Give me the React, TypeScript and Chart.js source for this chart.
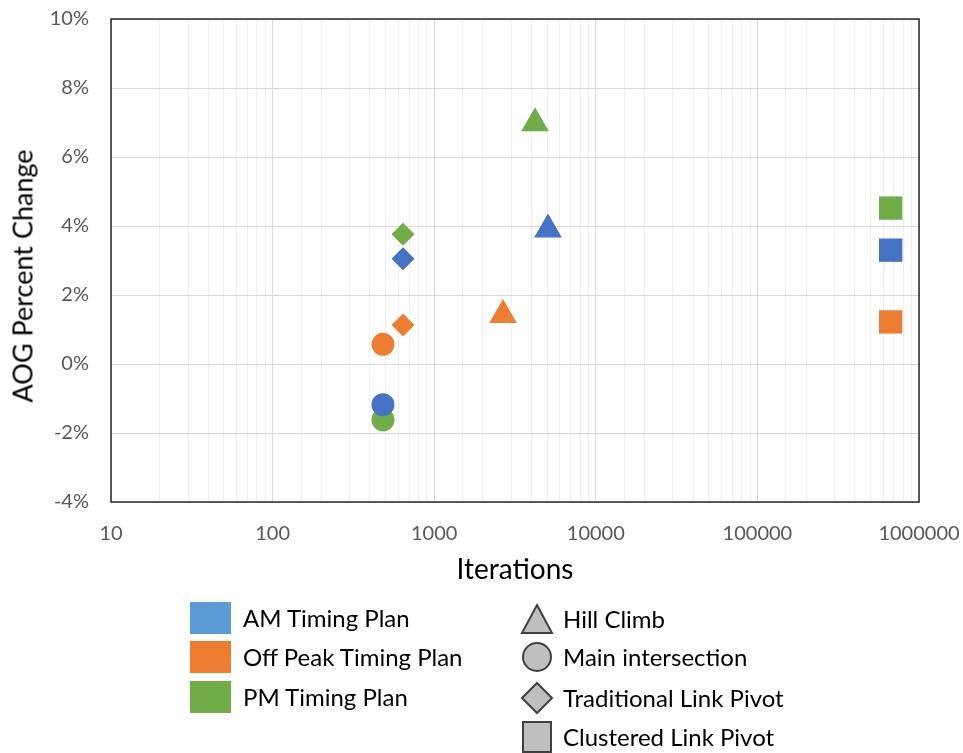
import React, { useEffect, useRef } from 'react';
import { Chart, registerables } from 'chart.js';
Chart.register(...registerables);

// ---- data ----
const methods = ['Hill Climb', 'Main intersection', 'Traditional Link Pivot', 'Clustered Link Pivot'];
const methodStyles = ['triangle', 'circle', 'rectRot', 'rect'];

const plans = ['AM Timing Plan', 'Off Peak Timing Plan', 'PM Timing Plan'];

// order of points in each series follows `methods`
const amIterations = [5060, 482, 641, 668000];
const amChange = [3.9, -1.18, 3.05, 3.3];
const offPeakIterations = [2667, 482, 641, 668000];
const offPeakChange = [1.42, 0.57, 1.13, 1.22];
const pmIterations = [4207, 482, 641, 668000];
const pmChange = [6.98, -1.62, 3.76, 4.52];

const xTickLabels = [10, 100, 1000, 10000, 100000, 1000000];
const yTickLabels = [-4, -2, 0, 2, 4, 6, 8, 10];

// ---- styles ----
const planColors = ['#4472C4', '#ED7D31', '#70AD47'];
const legendColors = ['#5B9BD5', '#ED7D31', '#70AD47'];
const methodRadius = [16, 11.5, 11.5, 16.5];
const FONT = 'Lato, "Open Sans", sans-serif';

const seriesX = [amIterations, offPeakIterations, pmIterations];
const seriesY = [amChange, offPeakChange, pmChange];

const boxPlugin = {
  id: 'plotBox',
  afterDraw(chart: any) {
    const { ctx, chartArea: a } = chart;
    ctx.save();
    ctx.strokeStyle = '#262626';
    ctx.lineWidth = 1.5;
    ctx.strokeRect(a.left, a.top, a.right - a.left, a.bottom - a.top);
    ctx.restore();
  },
};

function zeroPad(scale: any) {
  scale.paddingLeft = 0;
  scale.paddingRight = 0;
  scale.paddingTop = 0;
  scale.paddingBottom = 0;
}

function LegendShape({ kind }: { kind: number }) {
  const s = { fill: '#BFBFBF', stroke: '#404040', strokeWidth: 2 };
  return (
    <svg width={34} height={34} viewBox="0 0 34 34" style={{ display: 'block' }}>
      {kind === 0 && <polygon points="17,3 32,31 2,31" {...s} />}
      {kind === 1 && <circle cx={17} cy={17} r={14} {...s} />}
      {kind === 2 && <polygon points="17,2 32,17 17,32 2,17" {...s} />}
      {kind === 3 && <rect x={3} y={2} width={28} height={30} {...s} />}
    </svg>
  );
}

export default function App() {
  const ref = useRef<HTMLCanvasElement | null>(null);

  useEffect(() => {
    if (!ref.current) return;
    const datasets = plans.map((p, i) => ({
      label: p,
      data: seriesX[i].map((x, j) => ({ x, y: seriesY[i][j] })),
      backgroundColor: planColors[i],
      borderColor: planColors[i],
      borderWidth: 0,
      pointStyle: methodStyles as any,
      pointRadius: methodRadius,
      pointHoverRadius: methodRadius,
      showLine: false,
    }));
    const chart = new Chart(ref.current, {
      type: 'scatter',
      data: { datasets },
      plugins: [boxPlugin],
      options: {
        animation: false,
        responsive: false,
        devicePixelRatio: 1,
        layout: { padding: { left: 0, top: 19, right: 44, bottom: 166 } },
        plugins: { legend: { display: false }, tooltip: { enabled: false } },
        scales: {
          x: {
            type: 'logarithmic',
            min: 10,
            max: 1000000,
            afterFit(scale: any) {
              scale.height = 85;
              zeroPad(scale);
            },
            grid: {
              drawTicks: false,
              color: (ctx: any) => {
                const v = ctx.tick ? ctx.tick.value : 0;
                return xTickLabels.includes(v) ? '#D9D9D9' : '#EFEFEF';
              },
              lineWidth: 1,
            },
            border: { display: false },
            ticks: {
              autoSkip: false,
              maxRotation: 0,
              padding: 20,
              color: '#595959',
              font: { family: FONT, size: 20 },
              callback: (v: any) => (xTickLabels.includes(Number(v)) ? String(v) : ''),
            },
            title: {
              display: true,
              text: 'Iterations',
              color: '#000',
              font: { family: FONT, size: 28 },
              padding: { top: 6, bottom: 0 },
            },
          },
          y: {
            min: -4,
            max: 10,
            afterFit(scale: any) {
              scale.width = 111;
              zeroPad(scale);
            },
            afterBuildTicks(scale: any) {
              scale.ticks = yTickLabels.map((v) => ({ value: v }));
            },
            grid: { drawTicks: false, color: '#D9D9D9', lineWidth: 1 },
            border: { display: false },
            ticks: {
              padding: 22,
              color: '#595959',
              font: { family: FONT, size: 20 },
              callback: (v: any) => v + '%',
            },
          },
        },
      },
    });
    return () => chart.destroy();
  }, []);

  const textStyle: React.CSSProperties = {
    position: 'absolute',
    fontFamily: FONT,
    fontSize: 24,
    color: '#000',
    whiteSpace: 'nowrap',
    lineHeight: '1',
    transform: 'translateY(-50%)',
  };

  const leftRows = [618, 657, 697];
  const rightRows = [619, 657, 698, 737];

  return (
    <div style={{ position: 'fixed', left: 0, top: 0, width: 963, height: 753, background: '#fff' }}>
      <canvas ref={ref} width={963} height={753} style={{ position: 'absolute', left: 0, top: 0 }} />
      <div
        style={{
          position: 'absolute',
          left: 22,
          top: 276,
          transform: 'translate(-50%, -50%) rotate(-90deg)',
          fontFamily: FONT,
          fontSize: 27,
          whiteSpace: 'nowrap',
          lineHeight: '1',
          color: '#000',
        }}
      >
        AOG Percent Change
      </div>
      {plans.map((p, i) => (
        <React.Fragment key={p}>
          <div
            style={{
              position: 'absolute',
              left: 190,
              top: leftRows[i] - 16,
              width: 41,
              height: 32,
              background: legendColors[i],
            }}
          />
          <div style={{ ...textStyle, left: 243, top: leftRows[i] }}>{p}</div>
        </React.Fragment>
      ))}
      {methods.map((m, i) => (
        <React.Fragment key={m}>
          <div style={{ position: 'absolute', left: 520, top: rightRows[i] - 17 }}>
            <LegendShape kind={i} />
          </div>
          <div style={{ ...textStyle, left: 563, top: rightRows[i] }}>{m}</div>
        </React.Fragment>
      ))}
    </div>
  );
}
